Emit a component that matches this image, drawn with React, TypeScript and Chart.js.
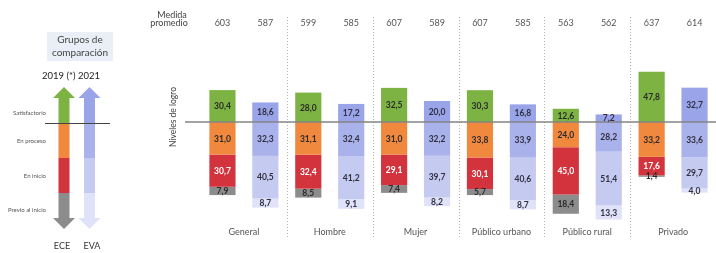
import React, { useEffect, useRef } from 'react';
import { Chart, registerables } from 'chart.js';

Chart.register(...registerables);

// ---- data ----
const groups = ['General', 'Hombre', 'Mujer', 'Público urbano', 'Público rural', 'Privado'];
const promedioECE = [603, 599, 607, 607, 563, 637];
const promedioEVA = [587, 585, 589, 585, 562, 614];

const eceSatisfactorio = [30.4, 28.0, 32.5, 30.3, 12.6, 47.8];
const eceProceso = [31.0, 31.1, 31.0, 33.8, 24.0, 33.2];
const eceInicio = [30.7, 32.4, 29.1, 30.1, 45.0, 17.6];
const ecePrevio = [7.9, 8.5, 7.4, 5.7, 18.4, 1.4];

const evaSatisfactorio = [18.6, 17.2, 20.0, 16.8, 7.2, 32.7];
const evaProceso = [32.3, 32.4, 32.2, 33.9, 28.2, 33.6];
const evaInicio = [40.5, 41.2, 39.7, 40.6, 51.4, 29.7];
const evaPrevio = [8.7, 9.1, 8.2, 8.7, 13.3, 4.0];

const levelNames = ['Satisfactorio', 'En proceso', 'En inicio', 'Previo al inicio'];

// ---- styles ----
const FONT = 'Lato, "Open Sans", "DejaVu Sans", sans-serif';
const eceColors = ['#7DB343', '#F0883E', '#D2333C', '#8C8C8C'];
const evaColors = ['#9AA4E8', '#AAB2EB', '#C5CAF1', '#DFE2F8'];
const eceText = ['#2a2a2a', '#2a2a2a', '#ffffff', '#2a2a2a'];
const evaText = ['#2f2f3f', '#2f2f3f', '#2f2f3f', '#2f2f3f'];

function interleave<T>(a: T[], b: T[]): T[] {
  const out: T[] = [];
  a.forEach((v, i) => { out.push(v); out.push(b[i]); });
  return out;
}

const eceLevels = [eceSatisfactorio, eceProceso, eceInicio, ecePrevio];
const evaLevels = [evaSatisfactorio, evaProceso, evaInicio, evaPrevio];
const promedioLabels = interleave(promedioECE, promedioEVA).map(String);

const valueLabels = {
  id: 'valueLabels',
  afterDatasetsDraw(chart: any) {
    const ctx = chart.ctx;
    const yScale = chart.scales.y;
    const y0 = yScale.getPixelForValue(0);
    ctx.save();
    ctx.strokeStyle = '#858585';
    ctx.lineWidth = 1.5;
    ctx.beginPath();
    ctx.moveTo(185, y0);
    ctx.lineTo(chart.width, y0);
    ctx.stroke();
    ctx.restore();

    ctx.save();
    ctx.font = `bold 8.5px ${FONT}`;
    ctx.textAlign = 'center';
    ctx.textBaseline = 'middle';
    chart.data.datasets.forEach((ds: any, i: number) => {
      const meta = chart.getDatasetMeta(i);
      meta.data.forEach((bar: any, j: number) => {
        const v = ds.data[j];
        if (v == null) return;
        const p = bar.getProps(['x', 'y', 'base'], true);
        ctx.fillStyle = ds.labelColors[j];
        ctx.fillText(Math.abs(v).toFixed(1).replace('.', ','), p.x, (p.y + p.base) / 2 + 0.5);
      });
    });
    ctx.restore();
  },
};

const decor = {
  id: 'decor',
  beforeDraw(chart: any) {
    const ctx = chart.ctx;
    ctx.save();
    ctx.fillStyle = '#ffffff';
    ctx.fillRect(0, 0, chart.width, chart.height);
    ctx.restore();
  },
  beforeDatasetsDraw(chart: any) {
    const ctx = chart.ctx;
    const g = chart.scales.groups;
    ctx.save();
    ctx.strokeStyle = '#b0b0b0';
    ctx.lineWidth = 1;
    ctx.setLineDash([1, 2]);
    for (let i = 1; i < groups.length; i++) {
      const x = Math.round((g.getPixelForValue(i - 1) + g.getPixelForValue(i)) / 2) + 0.5;
      ctx.beginPath();
      ctx.moveTo(x, 17);
      ctx.lineTo(x, 238);
      ctx.stroke();
    }
    ctx.restore();
  },
  afterDraw(chart: any) {
    const ctx = chart.ctx;
    ctx.save();
    ctx.fillStyle = '#444';
    ctx.font = `9px ${FONT}`;
    ctx.textAlign = 'center';
    ctx.textBaseline = 'middle';
    ctx.fillText('Medida', 172, 15);
    ctx.fillText('promedio', 169, 23.5);

    ctx.save();
    ctx.translate(173, 117);
    ctx.rotate(-Math.PI / 2);
    ctx.fillStyle = '#444';
    ctx.font = `8.5px ${FONT}`;
    ctx.fillText('Niveles de logro', 0, 0);
    ctx.restore();

    ctx.fillStyle = '#E9EEF7';
    ctx.fillRect(47, 32, 66, 29);
    ctx.fillStyle = '#444';
    ctx.font = `10px ${FONT}`;
    ctx.fillText('Grupos de', 80, 40);
    ctx.fillText('comparación', 80, 52.5);

    ctx.fillStyle = '#222';
    ctx.font = `9.5px ${FONT}`;
    ctx.fillText('2019 (*) 2021', 71, 76);

    const drawArrow = (cx: number, colors: string[]) => {
      const shaftW = 11, headW = 22;
      const tipTop = 87, baseTop = 98, baseBot = 218, tipBot = 229;
      const stops = [baseTop, 123, 158, 193, baseBot];
      ctx.fillStyle = colors[0];
      ctx.beginPath();
      ctx.moveTo(cx - headW / 2, baseTop);
      ctx.lineTo(cx, tipTop);
      ctx.lineTo(cx + headW / 2, baseTop);
      ctx.closePath();
      ctx.fill();
      for (let k = 0; k < 4; k++) {
        ctx.fillStyle = colors[k];
        ctx.fillRect(cx - shaftW / 2, stops[k], shaftW, stops[k + 1] - stops[k]);
      }
      ctx.fillStyle = colors[3];
      ctx.beginPath();
      ctx.moveTo(cx - headW / 2, baseBot);
      ctx.lineTo(cx, tipBot);
      ctx.lineTo(cx + headW / 2, baseBot);
      ctx.closePath();
      ctx.fill();
    };
    drawArrow(64, eceColors);
    drawArrow(89.5, evaColors);

    ctx.strokeStyle = '#444';
    ctx.lineWidth = 1;
    ctx.beginPath();
    ctx.moveTo(45, 123.5);
    ctx.lineTo(110, 123.5);
    ctx.stroke();

    ctx.fillStyle = '#555';
    ctx.font = `6px ${FONT}`;
    ctx.textAlign = 'right';
    const ly = [113, 141, 176, 210];
    levelNames.forEach((n, k) => ctx.fillText(n, 46, ly[k]));

    ctx.textAlign = 'center';
    ctx.fillStyle = '#333';
    ctx.font = `9px ${FONT}`;
    ctx.fillText('ECE', 62, 246);
    ctx.fillText('EVA', 92, 246);
    ctx.restore();
  },
};

export default function App() {
  const ref = useRef<HTMLCanvasElement | null>(null);

  useEffect(() => {
    if (!ref.current) return;
    const datasets = [0, 1, 2, 3].map((k) => {
      const sign = k === 0 ? 1 : -1;
      return {
        label: levelNames[k],
        data: interleave(eceLevels[k], evaLevels[k]).map((v) => v * sign),
        backgroundColor: interleave(groups.map(() => eceColors[k]), groups.map(() => evaColors[k])),
        labelColors: interleave(groups.map(() => eceText[k]), groups.map(() => evaText[k])),
        borderWidth: 0,
        xAxisID: 'x',
        yAxisID: 'y',
        barPercentage: 0.61,
        categoryPercentage: 1,
      };
    });

    const chart = new Chart(ref.current, {
      type: 'bar',
      data: { labels: promedioLabels, datasets: datasets as any },
      options: {
        responsive: false,
        animation: false,
        layout: { padding: { left: 201, right: 0, top: 0, bottom: 0 } },
        plugins: { legend: { display: false }, tooltip: { enabled: false } },
        scales: {
          x: {
            type: 'category',
            position: 'top',
            stacked: true,
            offset: true,
            grid: { display: false, drawTicks: false },
            border: { display: false },
            ticks: { color: '#555', font: { family: FONT, size: 9 }, padding: 10, autoSkip: false, maxRotation: 0 },
            afterFit: (s: any) => { s.height = 38; },
          },
          groups: {
            type: 'category',
            axis: 'x',
            position: 'bottom',
            labels: groups,
            offset: true,
            grid: { display: false, drawTicks: false },
            border: { display: false },
            ticks: { color: '#555', font: { family: FONT, size: 9 }, padding: 0, autoSkip: false, maxRotation: 0 },
            afterFit: (s: any) => { s.height = 26; },
          },
          y: {
            stacked: true,
            min: -100,
            max: 80,
            display: false,
          },
        } as any,
      },
      plugins: [decor, valueLabels],
    });
    return () => chart.destroy();
  }, []);

  return (
    <div style={{ position: 'fixed', left: 0, top: 0, width: 716, height: 253, background: '#fff' }}>
      <canvas ref={ref} width={716} height={253} style={{ display: 'block', width: 716, height: 253 }} />
    </div>
  );
}
